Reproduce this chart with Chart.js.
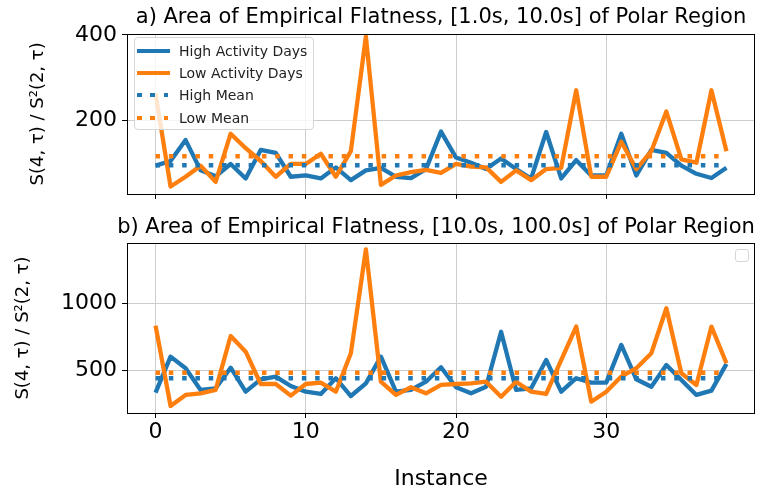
<!DOCTYPE html>
<html>
<head>
<meta charset="utf-8">
<script src="https://cdn.jsdelivr.net/npm/chart.js@4"></script>
<style>
  body { margin: 0; background: #fff; font-family: "DejaVu Sans", sans-serif; }
  #wrap { position: relative; width: 765px; height: 492px; overflow: hidden; }
  canvas { position: absolute; left: 0; }
  #c1 { top: 0; }
  #c2 { top: 212px; }
  .title {
    position: absolute; width: 800px; text-align: center;
    font-size: 21px; line-height: 25px; color: #000; white-space: nowrap;
  }
  .legend {
    position: absolute; left: 134px; top: 37px; width: 180px; height: 93px;
    border: 1px solid #d6d6d6; border-radius: 4px; background: rgba(255,255,255,0.8);
    box-sizing: border-box;
  }
  .row { position: absolute; left: 2px; height: 22px; display: flex; align-items: center; }
  .sample { width: 33px; height: 4.5px; margin-right: 9px; }
  .row span { font-size: 14px; color: #222; white-space: nowrap; }
  .emptyLegend {
    position: absolute; left: 735px; top: 249px; width: 14px; height: 13px;
    border: 1px solid #d6d6d6; border-radius: 3px; box-sizing: border-box;
  }
</style>
</head>
<body>
<div id="wrap">
  <canvas id="c1" width="765" height="212"></canvas>
  <canvas id="c2" width="765" height="280"></canvas>
  <div class="title" style="top:4px; left:41px">a) Area of Empirical Flatness, [1.0s, 10.0s] of Polar Region</div>
  <div class="title" style="top:214px; left:36px">b) Area of Empirical Flatness, [10.0s, 100.0s] of Polar Region</div>
  <div class="legend">
    <div class="row" style="top:2px"><div class="sample" style="background:#1f77b4"></div><span>High Activity Days</span></div>
    <div class="row" style="top:24px"><div class="sample" style="background:#ff7f0e"></div><span>Low Activity Days</span></div>
    <div class="row" style="top:46px"><div class="sample" style="background:repeating-linear-gradient(to right,#1f77b4 0 4.5px,transparent 4.5px 13.3px)"></div><span>High Mean</span></div>
    <div class="row" style="top:69px"><div class="sample" style="background:repeating-linear-gradient(to right,#ff7f0e 0 4.5px,transparent 4.5px 13.3px)"></div><span>Low Mean</span></div>
  </div>
  <div class="emptyLegend"></div>
</div>
<script>
const instances = [0,1,2,3,4,5,6,7,8,9,10,11,12,13,14,15,16,17,18,19,20,21,22,23,24,25,26,27,28,29,30,31,32,33,34,35,36,37,38];

// a) [1.0s, 10.0s]
const highA = [93,104,153,82,68,97,63,130,123,67,70,63,89,59,82,88,67,64,85,173,112,100,85,110,85,63,172,63,106,70,70,168,70,130,123,93,74,64,88];
const lowA = [262,44,67,93,55,168,134,104,67,97,97,121,67,127,396,48,70,78,83,76,97,91,89,55,82,59,85,88,270,67,67,149,85,127,220,108,100,270,127];
const highMeanA = 94;
const lowMeanA = 115;

// b) [10.0s, 100.0s]
const highB = [337,604,518,357,369,522,344,436,456,386,344,327,444,312,406,604,344,357,418,525,377,332,381,789,357,369,579,344,444,411,411,691,436,381,542,431,320,352,550];
const lowB = [834,238,320,332,357,757,641,401,401,315,401,411,344,629,1400,418,320,377,332,394,401,406,418,307,418,344,327,579,827,270,344,456,518,629,963,481,394,827,555];
const highMeanB = 444;
const lowMeanB = 485;

const xTicks = [0, 10, 20, 30];
const yTicksA = [200, 400];
const yTicksB = [500, 1000];

const blue = '#1f77b4';
const orange = '#ff7f0e';
const gridColor = '#cdcdcd';

function pts(vals) {
  return vals.map((v, i) => ({ x: instances[i], y: v }));
}
function meanLine(m) {
  return [{ x: instances[0], y: m }, { x: instances[instances.length - 1], y: m }];
}

const frame = {
  id: 'frame',
  afterDraw(chart) {
    const a = chart.chartArea, ctx = chart.ctx;
    ctx.save();
    ctx.strokeStyle = '#000';
    ctx.lineWidth = 1;
    ctx.strokeRect(Math.round(a.left) + 0.5, Math.round(a.top) + 0.5, Math.round(a.right - a.left) - 1, Math.round(a.bottom - a.top));
    ctx.restore();
  }
};

function datasets(high, low, hm, lm) {
  return [
    { label: 'High Activity Days', data: pts(high), borderColor: blue, borderWidth: 4.3, order: 4 },
    { label: 'Low Activity Days', data: pts(low), borderColor: orange, borderWidth: 4.3, order: 3 },
    { label: 'High Mean', data: meanLine(hm), borderColor: blue, borderWidth: 4.5, borderDash: [4.5, 8.8], order: 2 },
    { label: 'Low Mean', data: meanLine(lm), borderColor: orange, borderWidth: 4.5, borderDash: [4.5, 8.8], order: 1 }
  ];
}

function makeChart(id, cfg) {
  return new Chart(document.getElementById(id), {
    type: 'line',
    data: { datasets: datasets(cfg.high, cfg.low, cfg.hm, cfg.lm) },
    plugins: [frame],
    options: {
      responsive: false,
      animation: false,
      layout: { padding: { left: 0, right: 10, top: cfg.padTop, bottom: 0 } },
      elements: { point: { radius: 0 }, line: { tension: 0, borderCapStyle: 'butt', borderJoinStyle: 'round' } },
      plugins: {
        legend: { display: false },
        tooltip: { enabled: false },
        title: { display: false }
      },
      scales: {
        x: {
          type: 'linear', min: -1.9, max: 39.9,
          afterBuildTicks: s => { s.ticks = xTicks.map(v => ({ value: v })); },
          afterFit: s => { s.height = cfg.xHeight; },
          grid: { color: gridColor, tickColor: '#000', tickLength: 5, lineWidth: 1 },
          border: { display: false },
          ticks: { display: cfg.showX, color: '#000', padding: 1, font: { family: 'DejaVu Sans', size: 22 }, callback: v => String(v) },
          title: {
            display: cfg.showX, text: 'Instance', color: '#000',
            font: { family: 'DejaVu Sans', size: 22 }, padding: { top: 0, bottom: 0 }
          }
        },
        y: {
          min: cfg.ymin, max: cfg.ymax,
          afterBuildTicks: s => { s.ticks = cfg.yTicks.map(v => ({ value: v })); },
          afterFit: s => { s.width = 127; },
          grid: { color: gridColor, tickColor: '#000', tickLength: 5, lineWidth: 1 },
          border: { display: false },
          ticks: { color: '#000', padding: 5, font: { family: 'DejaVu Sans', size: 22 }, callback: v => String(v) },
          title: {
            display: true, text: 'S(4, τ) / S²(2, τ)', color: '#000',
            font: { family: 'DejaVu Sans', size: 18 }, padding: { top: cfg.ylabPad, bottom: 0 }
          }
        }
      }
    }
  });
}

makeChart('c1', {
  high: highA, low: lowA, hm: highMeanA, lm: lowMeanA,
  padTop: 34, xHeight: 11, showX: false,
  ymin: 27, ymax: 402, yTicks: yTicksA, ylabPad: 27.7
});

makeChart('c2', {
  high: highB, low: lowB, hm: highMeanB, lm: lowMeanB,
  padTop: 31, xHeight: 79, showX: true,
  ymin: 186, ymax: 1447, yTicks: yTicksB, ylabPad: 12.7
});
</script>
</body>
</html>
